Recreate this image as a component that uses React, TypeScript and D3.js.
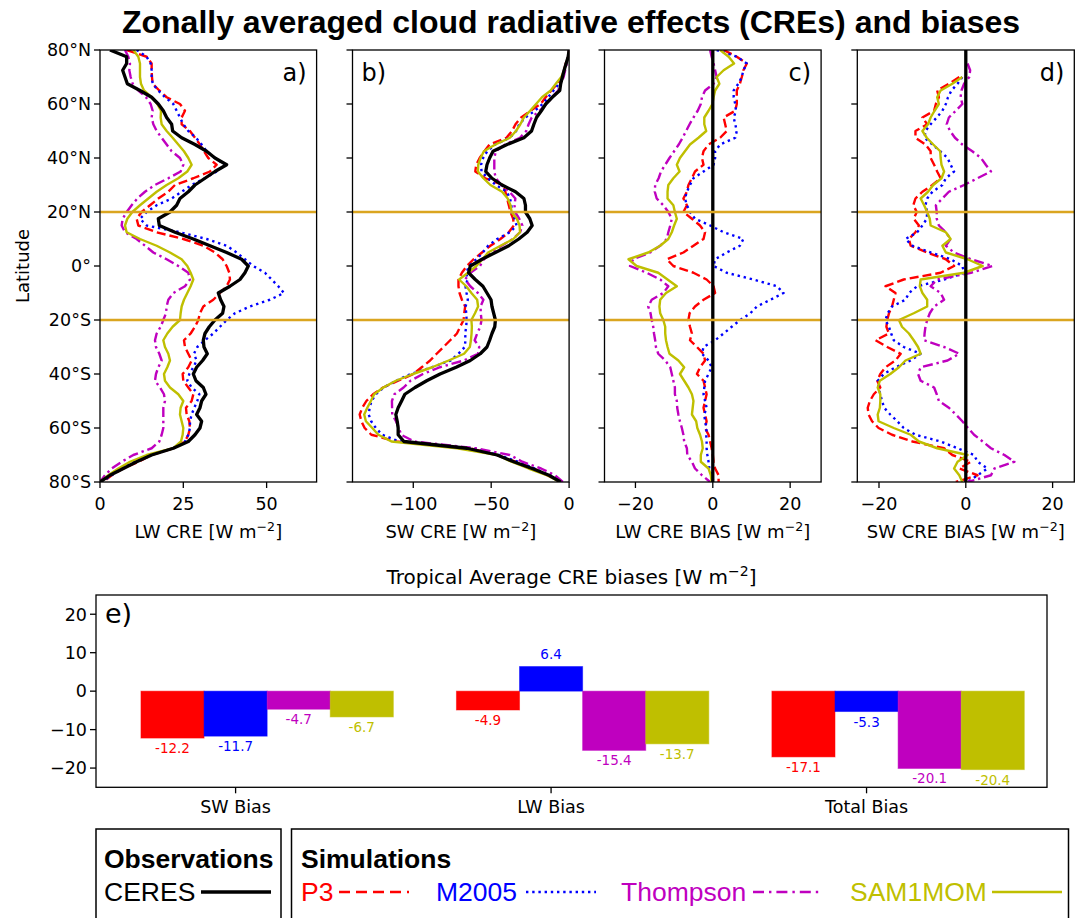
import React from "react";
import * as d3 from "d3";

// latitude grid shared by the four profile panels (north to south)
const lats = [80, 77.5, 75, 72.5, 70, 67.5, 65, 62.5, 60, 57.5, 55, 52.5, 50, 47.5, 45, 42.5,
  40, 37.5, 35, 32.5, 30, 27.5, 25, 22.5, 20, 17.5, 15, 12.5, 10, 7.5, 5, 2.5,
  0, -2.5, -5, -7.5, -10, -12.5, -15, -17.5, -20, -22.5, -25, -27.5, -30, -32.5, -35, -37.5,
  -40, -42.5, -45, -47.5, -50, -52.5, -55, -57.5, -60, -62.5, -65, -67.5, -70, -72.5, -75, -77.5, -80];

const latTicks = [80, 60, 40, 20, 0, -20, -40, -60, -80];
const latTickLabels = ["80°N", "60°N", "40°N", "20°N", "0°", "20°S", "40°S", "60°S", "80°S"];

// a) LW CRE
const ceresLW = [3, 8, 8, 6.8, 7.5, 8.2, 12, 15.5, 17.5, 19, 20, 21.5, 21.8, 24.5, 28.5, 32,
  34.5, 38, 34.5, 31.5, 28.5, 26.5, 24, 23, 21, 17.5, 17.8, 22.5, 28, 33, 38, 42.5,
  44.5, 43.5, 42, 39, 35.5, 36.2, 37.2, 36.8, 34.5, 32.8, 31.5, 31, 31.2, 32.2, 30.8, 29,
  28, 28.8, 31, 31.8, 30.5, 30, 29, 30.5, 30, 28.5, 26.5, 22, 15.5, 11, 7, 3, 0];
const p3LW = [8, 14, 15.5, 15.5, 15.6, 15.8, 17.8, 20, 24, 25.5, 24.5, 24.5, 27, 28.5, 30, 31.2,
  32.5, 35, 33, 28, 22.5, 20.5, 17.5, 15, 12.5, 11, 11.5, 17, 25, 31, 34.5, 36.8,
  38, 38.8, 39, 38, 36, 34, 31, 30, 29.5, 28.5, 27.2, 25.2, 25.5, 26.5, 27.5, 26.5,
  24.8, 25, 26.5, 28, 27.5, 25.8, 26, 26.8, 27, 26.5, 25.5, 22, 15.5, 11.5, 7, 3.5, 1];
const m2005LW = [11, 14, 15.2, 15.5, 15.5, 15.8, 17.5, 19.5, 22, 23, 24, 25, 26.5, 28.8, 30.5, 32,
  34.5, 37.5, 35, 31.5, 27.5, 24.5, 21.5, 17, 14, 12, 14, 24, 32, 38, 41, 43.5,
  46, 49.5, 51.5, 53.5, 55.2, 51, 45, 40.5, 38, 36, 34, 31.5, 29.2, 28.2, 29, 28,
  26.8, 26.2, 27.5, 29.8, 29.2, 28.3, 27.5, 27, 27, 26.5, 25.5, 22, 15, 10.5, 6.5, 3.5, 0.5];
const thompsonLW = [7.5, 8.5, 9, 8.8, 9.2, 9.8, 11.5, 13.8, 15.2, 15.8, 15.5, 16, 17, 18.5, 20, 21.5,
  24, 25, 24.2, 20.5, 16.5, 13.5, 11.2, 9.5, 8, 6.8, 6.5, 7.5, 11, 13.5, 16, 20,
  23.5, 26.5, 27, 25.5, 22, 20.5, 20, 19.8, 19, 18.2, 17, 16.5, 16.8, 17.8, 18.5, 17.5,
  16.8, 16.5, 18, 19.2, 19.5, 19, 19, 19, 19, 18.5, 17.8, 15.5, 10, 6.5, 3.5, 1.5, 0];
const sam1momLW = [10, 11.5, 12, 12, 12, 12.3, 13.2, 15.5, 17.2, 18.3, 18.2, 18.5, 20, 21.8, 23.5, 25.2,
  26.5, 27.5, 26.2, 23.5, 20, 17, 14.5, 12, 9.7, 8.2, 7.5, 8, 12, 17, 21, 24.5,
  26.2, 27.2, 28, 27.2, 26.2, 25.2, 24.5, 24.2, 24, 21.8, 20.2, 19, 19.5, 20.5, 21, 20.2,
  19.2, 19.5, 21, 23.5, 25, 24.2, 24, 24.5, 25, 24.8, 24.3, 22, 14, 9, 5.5, 2.5, 0.2];

// b) SW CRE
const ceresSW = [0, -0.6, -1.9, -3.2, -4.3, -5.4, -6, -10.8, -15, -17.8, -20.9, -22.6, -24.1, -29, -39.8, -48.8,
  -51, -52.7, -53.5, -49.5, -43, -34.4, -29, -28, -28, -25.2, -23.7, -26.9, -32.3, -38.7, -47.3, -55.9,
  -63.4, -64.5, -60.2, -55.3, -52.7, -50.1, -49.5, -48.4, -47.3, -47.7, -49.5, -51, -52.7, -57, -63.4, -72.5,
  -82.8, -91.4, -98.9, -105.4, -107.5, -109.7, -111.2, -110.3, -109.7, -109.7, -106, -65.6, -46.2, -35.5, -23.7, -12.9, -5.4];
const p3SW = [0, -0.6, -2.2, -3.2, -4.3, -7.5, -11.4, -15, -18.3, -24.7, -30.8, -34.4, -36.6, -40.2, -51, -54.4,
  -57.4, -59.6, -60.2, -53.8, -42.4, -40.9, -39.8, -38.7, -37.6, -35.9, -35.5, -38.7, -44.1, -50.5, -55.9, -61.3,
  -65.6, -68.8, -71, -71, -70.3, -68.8, -66.7, -67.3, -67.7, -69.9, -72, -76.3, -80.6, -85, -89.2, -94.6,
  -100, -109.7, -119.4, -125.8, -130.1, -132.7, -134.4, -133.3, -131.2, -126.9, -110.8, -63.4, -46.2, -34.4, -22.6, -14, -5.4];
const m2005SW = [0, -0.5, -2, -3, -4, -6.5, -10, -13.5, -17, -22, -28, -32, -34, -38, -47.5, -52.5,
  -55.2, -56.5, -56.2, -52, -47, -40, -37.9, -37, -36.9, -35, -33.7, -38, -46.2, -52, -55.4, -59.5,
  -64.2, -66, -65.2, -66.5, -65.8, -65, -66.5, -66, -65.8, -66, -66.7, -66.5, -67, -71, -76.1, -88,
  -101.7, -111, -119, -124, -126.8, -128, -128.6, -127, -124, -120, -109, -62, -45, -33, -22, -13, -5];
const thompsonSW = [0, -0.4, -1.5, -2.5, -3.5, -5.5, -7, -11, -14.5, -19, -24, -26, -27.5, -31.5, -41, -47,
  -48, -48, -48, -47, -43.5, -38.3, -34.5, -35, -34.7, -32, -30, -31.5, -36, -43.3, -50, -54.7,
  -57.2, -63.3, -66.8, -63.4, -58.5, -55, -56.8, -56.7, -56.2, -57, -59, -60.6, -57.7, -58.5, -67.6, -82.9,
  -93.8, -101.8, -106.2, -112.1, -113.7, -113.6, -113.5, -111.1, -109.2, -107.8, -99.3, -60, -38, -30, -18, -9, -4];
const sam1momSW = [0, -0.5, -2, -3.2, -5, -8.5, -11.8, -17.4, -21.2, -25, -29, -31.3, -34.1, -38, -47.3, -54.7,
  -56.8, -58.3, -58.5, -55, -50.5, -43, -39.4, -37.6, -36.9, -33.5, -31.8, -31.5, -35.8, -44, -52, -55.5,
  -59.5, -64.9, -70.6, -66, -62.7, -59, -58.4, -60.4, -62.7, -62.4, -62.6, -63, -63.7, -67.4, -77.3, -87.9,
  -100.2, -111.2, -119.2, -125.1, -127.2, -129.5, -131.5, -130.4, -126.3, -122.4, -114, -72, -46, -37, -26, -14, -6];

// c) LW CRE bias
const p3LWBias = [2.8, 6.2, 8.8, 7.9, 7.5, 7, 6.2, 6.2, 6.2, 5.8, 2.8, 3.2, 3.6, 1.9, -1.1, -2.4,
  -2.8, -2.4, -4.6, -5.4, -6.3, -6.7, -7.6, -6.7, -7.6, -5.4, -3.3, -2, -2.4, -5, -7.6, -11.9,
  -10.2, -5, -1.6, 0.2, 0.6, -2.4, -4.6, -6, -6.3, -5.9, -5.4, -5.9, -4.1, -2.4, -2, -3.3,
  -4.1, -2.4, -2, -1.6, -2, -2.4, -2, -1.6, -2, -1.1, -0.7, -0.3, 0, 0.2, 0.6, 1.5, 1.5];
const m2005LWBias = [1, 6.2, 8.8, 7.9, 7.5, 6.6, 5.4, 5.4, 5.8, 6, 5.4, 5.8, 6.2, 5.8, 1.9, 0.6,
  0.6, 0.2, -2.4, -5, -5.9, -6.7, -7.2, -6.7, -5.9, -4.6, -0.7, 2.8, 7.9, 7, 3.6, 0.6,
  0.2, 3.6, 10.5, 16.6, 18.3, 14.9, 11.4, 9.7, 7.1, 4.9, 2.8, 0.6, -2.4, -2.8, -1.1, -0.3,
  -1.1, -2, -2.2, -2.4, -2, -1.6, -2.2, -2, -1.6, -1.7, -1.6, -1.6, -1.4, -1.1, -0.9, -0.3, 0.2];
const thompsonLWBias = [-0.7, -0.3, 0.2, 0.6, 1, 0.2, -2, -2.8, -3.1, -3.9, -5, -6, -6.9, -7.8, -8.8, -10,
  -11.2, -12.3, -13.4, -14, -14.9, -15, -14.5, -12.8, -11.5, -10.6, -11, -11.5, -11.9, -13.6, -16.2, -20.6,
  -21.4, -17.1, -13.6, -11.5, -12.8, -15.8, -16.7, -16.1, -15.8, -15.4, -15.2, -14.9, -14.7, -14.1, -12.3, -11,
  -10.6, -10.2, -9.8, -9.8, -9.3, -9.2, -8.9, -8.5, -8, -7.6, -7.4, -6.7, -6.6, -5.4, -4.6, -2.8, -0.7];
const sam1momLWBias = [1.9, 4.1, 5.5, 2.8, 1, 1.7, 0.6, 0.2, -0.1, -1.1, -2.2, -2.2, -1.7, -3.7, -5.9, -7.2,
  -8.5, -9.3, -8.6, -10.2, -11.5, -11.7, -11.7, -10.2, -9.8, -9.3, -10, -10.6, -11.5, -13.6, -16.7, -21.8,
  -19.7, -14.1, -11.7, -9.3, -12.1, -13.6, -13.8, -13.6, -12.8, -12.3, -12.3, -12.1, -11.7, -11.2, -8.9, -7.4,
  -8.5, -7.4, -6.3, -5.4, -5, -5.2, -5.4, -4.3, -4, -3.3, -2.8, -2.6, -3.1, -3.1, -1.1, -0.5, -0.3];

// d) SW CRE bias (no data poleward of ~71N)
const p3SWBias = [null, null, null, null, -1.5, -3.9, -6.6, -6.2, -6.9, -7.3, -10, -8.9, -11.6, -11.6, -9.3, -8.1,
  -8.1, -7.3, -6.6, -5.8, -7.7, -10, -11.6, -12.1, -11.3, -12, -10.8, -11.6, -13.1, -12.7, -8.9, -4.6,
  -2.7, -5.8, -14.3, -18.5, -16.2, -16.6, -17, -17.7, -18.1, -18.3, -17.7, -20.8, -18.1, -15, -16.2, -18.5,
  -19.7, -20.4, -19.7, -21.2, -22.1, -22.6, -22.4, -21.6, -20.1, -17, -12.3, -5, -3.1, 1.2, -1.5, 2.7, -2.3];
const m2005SWBias = [null, null, null, null, -0.8, -1.9, -3.3, -4.1, -4.6, -5.4, -6.7, -8.1, -9.3, -9.5, -7.7, -5.9,
  -4.2, -3.5, -2.7, -4.6, -5.4, -7.7, -8.9, -9.3, -8.9, -9, -10, -11.2, -13.9, -12.3, -8.1, -3.5,
  -0.8, -0.4, -5, -11.2, -13.1, -13.9, -17, -18, -18.5, -17.7, -17.2, -16.6, -14.3, -10.4, -12.7, -16.2,
  -18.9, -20.3, -20.1, -19.7, -19.3, -18.8, -17.4, -15.8, -14.3, -11.6, -5.8, -1.9, 1.9, 2.7, 5, 2.7, 0.4];
const thompsonSWBias = [null, null, 0.4, 1, 0.8, -0.4, -1, -1.2, -0.8, -2.3, -3.9, -4.4, -3.6, -2.5, -0.8, 1.5,
  3.5, 4.6, 5.8, 2.7, -0.4, -3.9, -5.4, -6.9, -6.7, -6.7, -6.2, -4.6, -3.5, -4.6, -2.7, 1.2,
  6.2, 1.2, -6.6, -8.1, -5.8, -5, -7.3, -8.3, -8.9, -9.3, -9.5, -9.6, -5, -1.5, -4.2, -10.4,
  -11, -10.4, -7.3, -6.7, -6.2, -3.9, -2.3, -0.8, 0.5, 1.9, 3.9, 5.8, 8.9, 11.2, 6.6, 5.8, 0.4];
const sam1momSWBias = [null, null, null, null, -0.8, -3.1, -5.8, -6.6, -6.2, -7.2, -8.1, -8.7, -10, -9, -7.5, -5.9,
  -5.8, -5.6, -5, -5.6, -7.5, -8.7, -10.4, -9.6, -8.9, -8.3, -8.1, -4.6, -3.5, -5.4, -4.6, 0.4,
  3.9, -0.4, -10.4, -10.6, -10, -8.9, -8.9, -12, -15.4, -14.7, -13.1, -12, -11, -10.4, -13.9, -15.4,
  -17.4, -19.8, -20.3, -19.7, -19.7, -19.8, -20.3, -20.1, -16.6, -12.7, -10.8, -6.6, 0.4, -1.9, -2.7, -1.5, -0.8];

// e) tropical averages
const biasCategories = ["SW Bias", "LW Bias", "Total Bias"];
const p3Bias = [-12.2, -4.9, -17.1];
const m2005Bias = [-11.7, 6.4, -5.3];
const thompsonBias = [-4.7, -15.4, -20.1];
const sam1momBias = [-6.7, -13.7, -20.4];
const biasTicks = [20, 10, 0, -10, -20];

const mpl = "'DejaVu Sans', sans-serif";
const arial = "'Liberation Sans', Arial, sans-serif";

const styles = {
  CERES: { color: "#000000", width: 3.3, dash: undefined, legendDash: undefined },
  P3: { color: "#ff0000", width: 2.4, dash: "9,4", legendDash: "11,6" },
  M2005: { color: "#0000ff", width: 2.4, dash: "2.4,3.8", legendDash: "2.4,3.8" },
  Thompson: { color: "#bf00bf", width: 2.4, dash: "10,3.8,2.4,3.8", legendDash: "11,5,2.4,5" },
  SAM1MOM: { color: "#bfbf00", width: 2.4, dash: undefined, legendDash: undefined },
};

const top = 50;
const bottom = 482;
const yLat = d3.scaleLinear().domain([80, -80]).range([top, bottom]);
const fmt = (v) => (v < 0 ? "\u2212" + Math.abs(v) : String(v));

function UnitText({ x, y, prefix, fs, anchor = "middle" }) {
  return (
    <text x={x} y={y} textAnchor={anchor} fontSize={fs} fontFamily={mpl}>
      {prefix} [W m<tspan dy={-fs * 0.4} fontSize={fs * 0.7}>{"\u22122"}</tspan>
      <tspan dy={fs * 0.4}>]</tspan>
    </text>
  );
}

function Profile({ id, left, width, domain, ticks, xlabel, tag, tagLeft, series, zeroLine, yLabels }) {
  const x = d3.scaleLinear().domain(domain).range([left, left + width]);
  const line = d3
    .line<[number, number | null]>()
    .defined((d) => d[1] !== null)
    .x((d) => x(d[1] as number))
    .y((d) => yLat(d[0]));
  return (
    <g>
      <defs>
        <clipPath id={`clip-${id}`}>
          <rect x={left} y={top} width={width} height={bottom - top} />
        </clipPath>
      </defs>
      <g clipPath={`url(#clip-${id})`}>
        {series.map((s) => {
          const st = styles[s.name];
          return (
            <path
              key={s.name}
              d={line(lats.map((lat, i) => [lat, s.values[i]])) || ""}
              fill="none"
              stroke={st.color}
              strokeWidth={st.width}
              strokeDasharray={st.dash}
              strokeLinejoin="round"
            />
          );
        })}
        {zeroLine && <line x1={x(0)} x2={x(0)} y1={top} y2={bottom} stroke="#000" strokeWidth={3.3} />}
        {[20, -20].map((l) => (
          <line key={l} x1={left} x2={left + width} y1={yLat(l)} y2={yLat(l)} stroke="#daa520" strokeWidth={2.6} />
        ))}
      </g>
      <rect x={left} y={top} width={width} height={bottom - top} fill="none" stroke="#000" strokeWidth={1.3} />
      {latTicks.map((l, i) => (
        <g key={l}>
          <line x1={left - 6} x2={left} y1={yLat(l)} y2={yLat(l)} stroke="#000" strokeWidth={1.3} />
          {yLabels && (
            <text x={left - 9} y={yLat(l) + 6.3} textAnchor="end" fontSize={17.5} fontFamily={mpl}>
              {latTickLabels[i]}
            </text>
          )}
        </g>
      ))}
      {ticks.map((t) => (
        <g key={t}>
          <line x1={x(t)} x2={x(t)} y1={bottom} y2={bottom + 6} stroke="#000" strokeWidth={1.3} />
          <text x={x(t)} y={510} textAnchor="middle" fontSize={17.5} fontFamily={mpl}>
            {fmt(t)}
          </text>
        </g>
      ))}
      <UnitText x={left + width / 2} y={538} prefix={xlabel} fs={18} />
      <text
        x={tagLeft ? left + 9 : left + width - 10}
        y={81}
        textAnchor={tagLeft ? "start" : "end"}
        fontSize={24}
        fontFamily={mpl}
      >
        {tag}
      </text>
    </g>
  );
}

function BarPanel() {
  const left = 96, right = 1047, eTop = 595, eBottom = 787.3;
  const x = d3.scaleLinear().domain([-0.2425, 2.772]).range([left, right]);
  const y = d3.scaleLinear().domain([-25, 25]).range([eBottom, eTop]);
  const bw = 0.2;
  const groups = [
    { name: "P3", values: p3Bias, color: "#ff0000" },
    { name: "M2005", values: m2005Bias, color: "#0000ff" },
    { name: "Thompson", values: thompsonBias, color: "#bf00bf" },
    { name: "SAM1MOM", values: sam1momBias, color: "#bfbf00" },
  ];
  return (
    <g>
      <UnitText x={(left + right) / 2} y={584} prefix="Tropical Average CRE biases" fs={20} />
      {groups.map((g, gi) =>
        g.values.map((v, ci) => {
          const cx = ci + gi * bw;
          const x0 = x(cx - bw / 2);
          const x1 = x(cx + bw / 2);
          return (
            <g key={g.name + ci}>
              <rect
                x={x0}
                y={Math.min(y(v), y(0))}
                width={x1 - x0}
                height={Math.abs(y(v) - y(0))}
                fill={g.color}
                stroke={g.color}
                strokeOpacity={0.5}
                strokeWidth={1}
              />
              <text
                x={x(cx)}
                y={v < 0 ? y(v) + 15 : y(v) - 7.5}
                textAnchor="middle"
                fontSize={13.5}
                fontFamily={mpl}
                fill={g.color}
              >
                {v.toFixed(1)}
              </text>
            </g>
          );
        })
      )}
      <rect x={left} y={eTop} width={right - left} height={eBottom - eTop} fill="none" stroke="#000" strokeWidth={1.3} />
      {biasTicks.map((t) => (
        <g key={t}>
          <line x1={left - 6} x2={left} y1={y(t)} y2={y(t)} stroke="#000" strokeWidth={1.3} />
          <text x={left - 9} y={y(t) + 6.3} textAnchor="end" fontSize={17.5} fontFamily={mpl}>
            {fmt(t)}
          </text>
        </g>
      ))}
      {biasCategories.map((c, i) => (
        <g key={c}>
          <line x1={x(i + bw)} x2={x(i + bw)} y1={eBottom} y2={eBottom + 6} stroke="#000" strokeWidth={1.3} />
          <text x={x(i + bw)} y={813} textAnchor="middle" fontSize={17.5} fontFamily={mpl}>
            {c}
          </text>
        </g>
      ))}
      <text x={105} y={623} fontSize={27} fontFamily={mpl}>
        e)
      </text>
    </g>
  );
}

function Legend() {
  const fs = 26.5;
  const items = [
    { name: "P3", tx: 301, lx: 339 },
    { name: "M2005", tx: 436, lx: 526 },
    { name: "Thompson", tx: 621, lx: 753 },
    { name: "SAM1MOM", tx: 850, lx: 992 },
  ];
  return (
    <g fontFamily={arial}>
      <rect x={96} y={829} width={185} height={120} fill="none" stroke="#000" strokeWidth={1.5} />
      <rect x={291.5} y={829} width={777} height={120} fill="none" stroke="#000" strokeWidth={1.5} />
      <text x={104} y={868} fontSize={fs} fontWeight="bold">Observations</text>
      <text x={104} y={901} fontSize={fs}>CERES</text>
      <line x1={201} x2={271} y1={892} y2={892} stroke="#000" strokeWidth={3.3} />
      <text x={301} y={868} fontSize={fs} fontWeight="bold">Simulations</text>
      {items.map((it) => {
        const st = styles[it.name];
        return (
          <g key={it.name}>
            <text x={it.tx} y={901} fontSize={fs} fill={st.color}>{it.name}</text>
            <line x1={it.lx} x2={it.lx + 70} y1={892} y2={892} stroke={st.color} strokeWidth={st.width} strokeDasharray={st.legendDash} />
          </g>
        );
      })}
    </g>
  );
}

export default function App() {
  const panelW = 216.6;
  return (
    <svg
      width={1086}
      height={918}
      viewBox="0 0 1086 918"
      style={{ position: "absolute", left: 0, top: 0, background: "#fff" }}
    >
      <rect width={1086} height={918} fill="#fff" />
      <text x={571} y={33} textAnchor="middle" fontSize={32} fontWeight="bold" fontFamily={arial}>
        Zonally averaged cloud radiative effects (CREs) and biases
      </text>
      <text transform="translate(29,266) rotate(-90)" textAnchor="middle" fontSize={18} fontFamily={mpl}>
        Latitude
      </text>
      <Profile
        id="a" left={100} width={panelW} domain={[0, 65]} ticks={[0, 25, 50]} xlabel="LW CRE" tag="a)"
        tagLeft={false} zeroLine={false} yLabels={true}
        series={[
          { name: "P3", values: p3LW }, { name: "M2005", values: m2005LW },
          { name: "Thompson", values: thompsonLW }, { name: "SAM1MOM", values: sam1momLW },
          { name: "CERES", values: ceresLW },
        ]}
      />
      <Profile
        id="b" left={352.5} width={panelW} domain={[-139, 0]} ticks={[-100, -50, 0]} xlabel="SW CRE" tag="b)"
        tagLeft={true} zeroLine={false} yLabels={false}
        series={[
          { name: "P3", values: p3SW }, { name: "M2005", values: m2005SW },
          { name: "Thompson", values: thompsonSW }, { name: "SAM1MOM", values: sam1momSW },
          { name: "CERES", values: ceresSW },
        ]}
      />
      <Profile
        id="c" left={604.5} width={panelW} domain={[-28, 28]} ticks={[-20, 0, 20]} xlabel="LW CRE BIAS" tag="c)"
        tagLeft={false} zeroLine={true} yLabels={false}
        series={[
          { name: "P3", values: p3LWBias }, { name: "M2005", values: m2005LWBias },
          { name: "Thompson", values: thompsonLWBias }, { name: "SAM1MOM", values: sam1momLWBias },
        ]}
      />
      <Profile
        id="d" left={857.3} width={217} domain={[-25, 25]} ticks={[-20, 0, 20]} xlabel="SW CRE BIAS" tag="d)"
        tagLeft={false} zeroLine={true} yLabels={false}
        series={[
          { name: "P3", values: p3SWBias }, { name: "M2005", values: m2005SWBias },
          { name: "Thompson", values: thompsonSWBias }, { name: "SAM1MOM", values: sam1momSWBias },
        ]}
      />
      <BarPanel />
      <Legend />
    </svg>
  );
}
